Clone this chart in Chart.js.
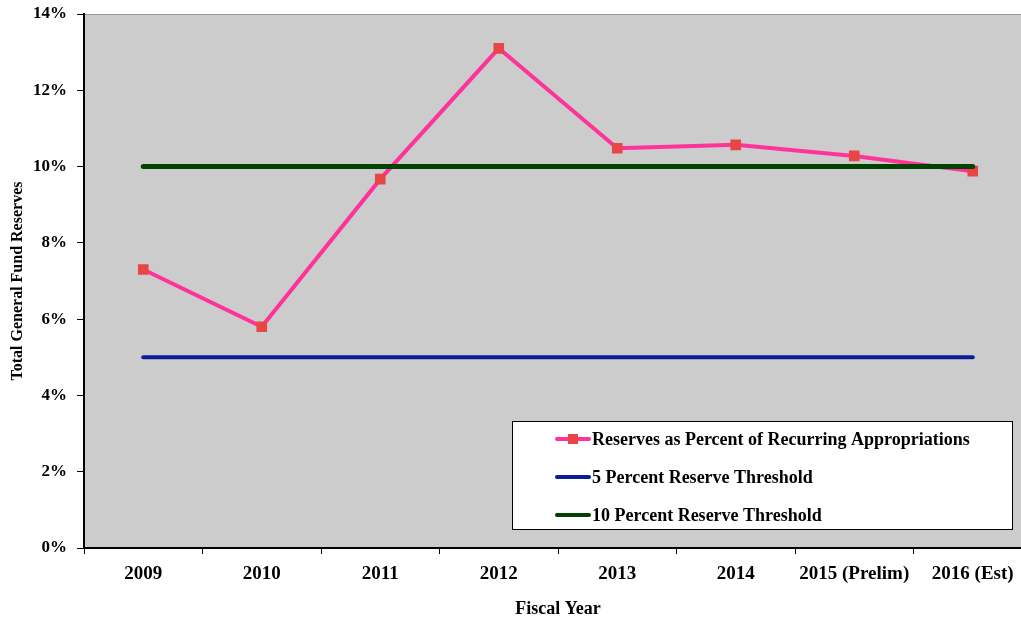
<!DOCTYPE html>
<html>
<head>
<meta charset="utf-8">
<script src="https://cdn.jsdelivr.net/npm/chart.js@4"></script>
<style>
    html, body { margin: 0; padding: 0; background: #fff; overflow: hidden; }
    #wrap { position: relative; width: 1044px; height: 622px; }
</style>
</head>
<body>
<div id="wrap"><canvas id="chart"></canvas></div>
<script>
const years = ["2009", "2010", "2011", "2012", "2013", "2014", "2015 (Prelim)", "2016 (Est)"];
const reservePct = [7.3, 5.8, 9.67, 13.1, 10.48, 10.57, 10.28, 9.88];
const threshold5 = [5, 5, 5, 5, 5, 5, 5, 5];
const threshold10 = [10, 10, 10, 10, 10, 10, 10, 10];
const seriesNames = [
    "Reserves as Percent of Recurring Appropriations",
    "5 Percent Reserve Threshold",
    "10 Percent Reserve Threshold"
];

const SERIF = "'Liberation Serif', 'Times New Roman', serif";
const PINK = "#ff3399";
const MARKER = "#e84545";
const BLUE = "#0b1e96";
const GREEN = "#004200";

const plotBackground = {
    id: "plotBackground",
    beforeDraw(chart) {
        const { ctx, chartArea: a } = chart;
        ctx.save();
        ctx.fillStyle = "#cccccc";
        ctx.fillRect(a.left, a.top, a.right - a.left, a.bottom - a.top);
        ctx.strokeStyle = "#999999";
        ctx.lineWidth = 1;
        ctx.beginPath();
        ctx.moveTo(a.left, a.top + 0.5);
        ctx.lineTo(a.right, a.top + 0.5);
        ctx.stroke();
        ctx.restore();
    }
};

// legend box drawn inside the plot, like the original
const boxLegend = {
    id: "boxLegend",
    afterDraw(chart) {
        const { ctx } = chart;
        const box = { x: 512.5, y: 421.5, w: 500, h: 108 };
        const rows = [439, 477, 515];
        ctx.save();
        ctx.fillStyle = "#ffffff";
        ctx.fillRect(box.x, box.y, box.w, box.h);
        ctx.strokeStyle = "#000000";
        ctx.lineWidth = 1;
        ctx.strokeRect(box.x, box.y, box.w, box.h);

        chart.data.datasets.forEach((ds, i) => {
            const y = rows[i];
            ctx.strokeStyle = ds.borderColor;
            ctx.lineWidth = 4;
            ctx.lineCap = "round";
            ctx.beginPath();
            ctx.moveTo(557, y);
            ctx.lineTo(589, y);
            ctx.stroke();
            if (ds.pointRadius > 0) {
                ctx.fillStyle = ds.pointBackgroundColor;
                ctx.fillRect(568, y - 5, 10, 10);
            }
            ctx.fillStyle = "#000000";
            ctx.font = "bold 18px " + SERIF;
            ctx.textBaseline = "middle";
            ctx.fillText(ds.label, 592, y + 1);
        });
        ctx.restore();
    }
};

new Chart(document.getElementById("chart"), {
    type: "line",
    data: {
        labels: years,
        datasets: [
            {
                label: seriesNames[0],
                data: reservePct,
                borderColor: PINK,
                borderWidth: 4,
                pointStyle: "rect",
                pointRadius: 7.5,
                pointBorderWidth: 0,
                pointBackgroundColor: MARKER,
                order: 3
            },
            {
                label: seriesNames[1],
                data: threshold5,
                borderColor: BLUE,
                borderWidth: 4,
                borderCapStyle: "round",
                pointRadius: 0,
                order: 2
            },
            {
                label: seriesNames[2],
                data: threshold10,
                borderColor: GREEN,
                borderWidth: 5,
                borderCapStyle: "round",
                pointRadius: 0,
                order: 1
            }
        ]
    },
    options: {
        responsive: true,
        maintainAspectRatio: false,
        animation: false,
        layout: { padding: { top: 14, right: 12, left: 0, bottom: 0 } },
        plugins: {
            legend: { display: false },
            tooltip: { enabled: false }
        },
        scales: {
            x: {
                type: "category",
                offset: true,
                afterFit: scale => { scale.height = 74; },
                grid: {
                    offset: true,
                    drawOnChartArea: false,
                    drawTicks: true,
                    tickLength: 6,
                    color: "#000000",
                    lineWidth: 1
                },
                border: { color: "#000000", width: 2 },
                ticks: {
                    color: "#000000",
                    padding: 9,
                    maxRotation: 0,
                    autoSkip: false,
                    font: { family: SERIF, size: 19, weight: "bold" }
                },
                title: {
                    display: true,
                    text: "Fiscal Year",
                    color: "#000000",
                    padding: { top: 0, bottom: 2 },
                    font: { family: SERIF, size: 18, weight: "bold" }
                }
            },
            y: {
                min: 0,
                max: 14,
                afterFit: scale => {
                    scale.width = 84;
                    scale.paddingTop = 0;
                    scale.paddingBottom = 0;
                },
                grid: {
                    drawOnChartArea: false,
                    drawTicks: true,
                    tickLength: 7,
                    color: "#000000"
                },
                border: { color: "#000000", width: 2 },
                ticks: {
                    stepSize: 2,
                    color: "#000000",
                    padding: 10,
                    font: { family: SERIF, size: 17, weight: "bold" },
                    callback: v => v + "%"
                },
                title: {
                    display: true,
                    text: "Total General Fund Reserves",
                    color: "#000000",
                    padding: { top: 8, bottom: 0 },
                    font: { family: SERIF, size: 16, weight: "bold" }
                }
            }
        }
    },
    plugins: [plotBackground, boxLegend]
});
</script>
</body>
</html>
